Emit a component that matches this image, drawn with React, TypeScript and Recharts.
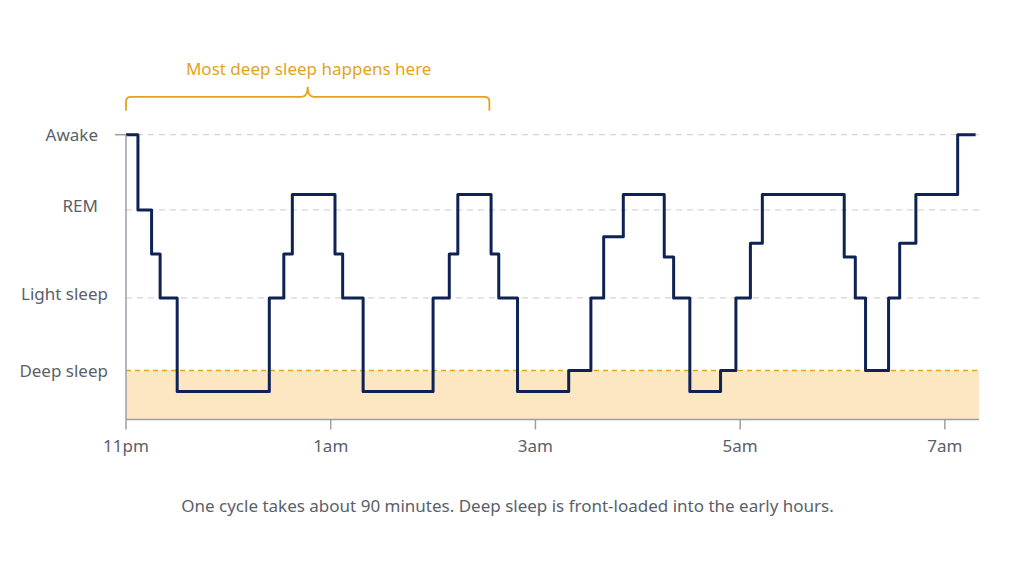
import React from 'react';
import {
  LineChart,
  Line,
  XAxis,
  YAxis,
  ReferenceLine,
  ReferenceArea,
} from 'recharts';

// minutes after 11pm where the stage changes
const changeTimes = [
  0, 7, 15, 20, 30, 84, 92.5, 97.5, 122.5, 127, 139, 180, 189.5, 194.5, 214,
  218.5, 229.5, 259.5, 272.5, 280, 291.5, 315.5, 321, 330.5, 348.5, 357.5, 366,
  373, 421, 427.5, 433.5, 447, 453.5, 463, 487.5, 498,
];

// depth value of each stage (higher = lighter sleep)
const stageValues = [
  100, 73.6, 58.1, 42.7, 9.8, 42.7, 58.1, 79, 58.1, 42.7, 9.8, 42.7, 58.1, 79,
  58.1, 42.7, 9.8, 17.2, 42.7, 64.2, 79, 57.1, 42.7, 9.8, 17.2, 42.7, 61.9, 79,
  57.1, 42.7, 17.2, 42.7, 61.9, 79, 100, 100,
];

const yTicks = [17.2, 42.7, 73.6, 100];
const yLabels = ['Deep sleep', 'Light sleep', 'REM', 'Awake'];

const xTicks = [0, 120, 240, 360, 480];
const xLabels = ['11pm', '1am', '3am', '5am', '7am'];

const deepLevel = 17.2;
const braceSpan = [0, 213];
const braceLevel = 113.3;
const braceText = 'Most deep sleep happens here';
const caption =
  'One cycle takes about 90 minutes. Deep sleep is front-loaded into the early hours.';

const data = changeTimes.map((t, i) => ({ t, stage: stageValues[i] }));

const FONT = '"Noto Sans", sans-serif';
const ORANGE = '#e4a21f';
const GREY_TEXT = '#5a5f6a';
const AXIS = '#9a9ea6';

function YTick(props: any) {
  const { x, y, payload } = props;
  const idx = yTicks.indexOf(payload.value);
  const label = yLabels[idx] ?? '';
  // the two short labels sit a bit further left
  const short = label === 'Awake' || label === 'REM';
  const axisX = x + 8;
  return (
    <g>
      {label === 'Awake' && (
        <line x1={axisX - 11} y1={y} x2={axisX} y2={y} stroke={AXIS} strokeWidth={1.5} />
      )}
      <text
        x={short ? axisX - 28 : axisX - 18}
        y={label === 'REM' || label === 'Light sleep' ? y - 4 : y}
        textAnchor="end"
        dominantBaseline="central"
        fill={GREY_TEXT}
        fontSize={17}
        fontFamily={FONT}
      >
        {label}
      </text>
    </g>
  );
}

function Brace(props: any) {
  const { x1, y1, x2 } = props;
  const y = y1;
  const mx = (x1 + x2) / 2;
  const d = [
    `M ${x1} ${y + 14}`,
    `L ${x1} ${y + 5}`,
    `Q ${x1} ${y} ${x1 + 5} ${y}`,
    `L ${mx - 6} ${y}`,
    `Q ${mx} ${y} ${mx} ${y - 10}`,
    `Q ${mx} ${y} ${mx + 6} ${y}`,
    `L ${x2 - 5} ${y}`,
    `Q ${x2} ${y} ${x2} ${y + 5}`,
    `L ${x2} ${y + 14}`,
  ].join(' ');
  return (
    <g>
      <path d={d} fill="none" stroke={ORANGE} strokeWidth={1.8} />
      <text
        x={mx + 1}
        y={y - 22}
        textAnchor="middle"
        fill={ORANGE}
        fontSize={17}
        fontFamily={FONT}
      >
        {braceText}
      </text>
    </g>
  );
}

export default function App() {
  return (
    <div
      style={{
        position: 'absolute',
        left: 0,
        top: 0,
        width: 1024,
        height: 576,
        background: '#fff',
        fontFamily: FONT,
      }}
    >
      <LineChart
        width={1024}
        height={576}
        data={data}
        margin={{ top: 134.7, right: 45, bottom: 116.5, left: 26 }}
      >
        <ReferenceArea
          x1={0}
          x2={500}
          y1={0}
          y2={deepLevel}
          fill="#fde7c3"
          fillOpacity={1}
          stroke="none"
        />
        {yTicks.slice(1).map((v) => (
          <ReferenceLine
            key={v}
            y={v}
            stroke="#d3d6de"
            strokeDasharray="6 5"
            strokeWidth={1.2}
          />
        ))}
        <ReferenceLine y={deepLevel} stroke={ORANGE} strokeDasharray="5 4" strokeWidth={1.5} />
        <ReferenceLine
          segment={[
            { x: braceSpan[0], y: braceLevel },
            { x: braceSpan[1], y: braceLevel },
          ]}
          ifOverflow="visible"
          shape={Brace}
        />
        <XAxis
          type="number"
          dataKey="t"
          domain={[0, 500]}
          ticks={xTicks}
          tickFormatter={(v: number) => xLabels[xTicks.indexOf(v)] ?? ''}
          height={40}
          tickSize={10}
          tickMargin={10}
          stroke={AXIS}
          strokeWidth={1.5}
          tick={{ fill: GREY_TEXT, fontSize: 17, fontFamily: FONT }}
        />
        <YAxis
          type="number"
          domain={[0, 100]}
          ticks={yTicks}
          width={100}
          tickLine={false}
          tickSize={0}
          tickMargin={8}
          stroke={AXIS}
          strokeWidth={1.5}
          tick={<YTick />}
          interval={0}
        />
        <Line
          type="stepAfter"
          dataKey="stage"
          stroke="#0e2354"
          strokeWidth={3}
          strokeLinejoin="round"
          dot={false}
          activeDot={false}
          isAnimationActive={false}
        />
      </LineChart>
      <div
        style={{
          position: 'absolute',
          left: 0,
          top: 494,
          width: 1015,
          textAlign: 'center',
          fontSize: 17,
          color: GREY_TEXT,
          fontFamily: FONT,
        }}
      >
        {caption}
      </div>
    </div>
  );
}
